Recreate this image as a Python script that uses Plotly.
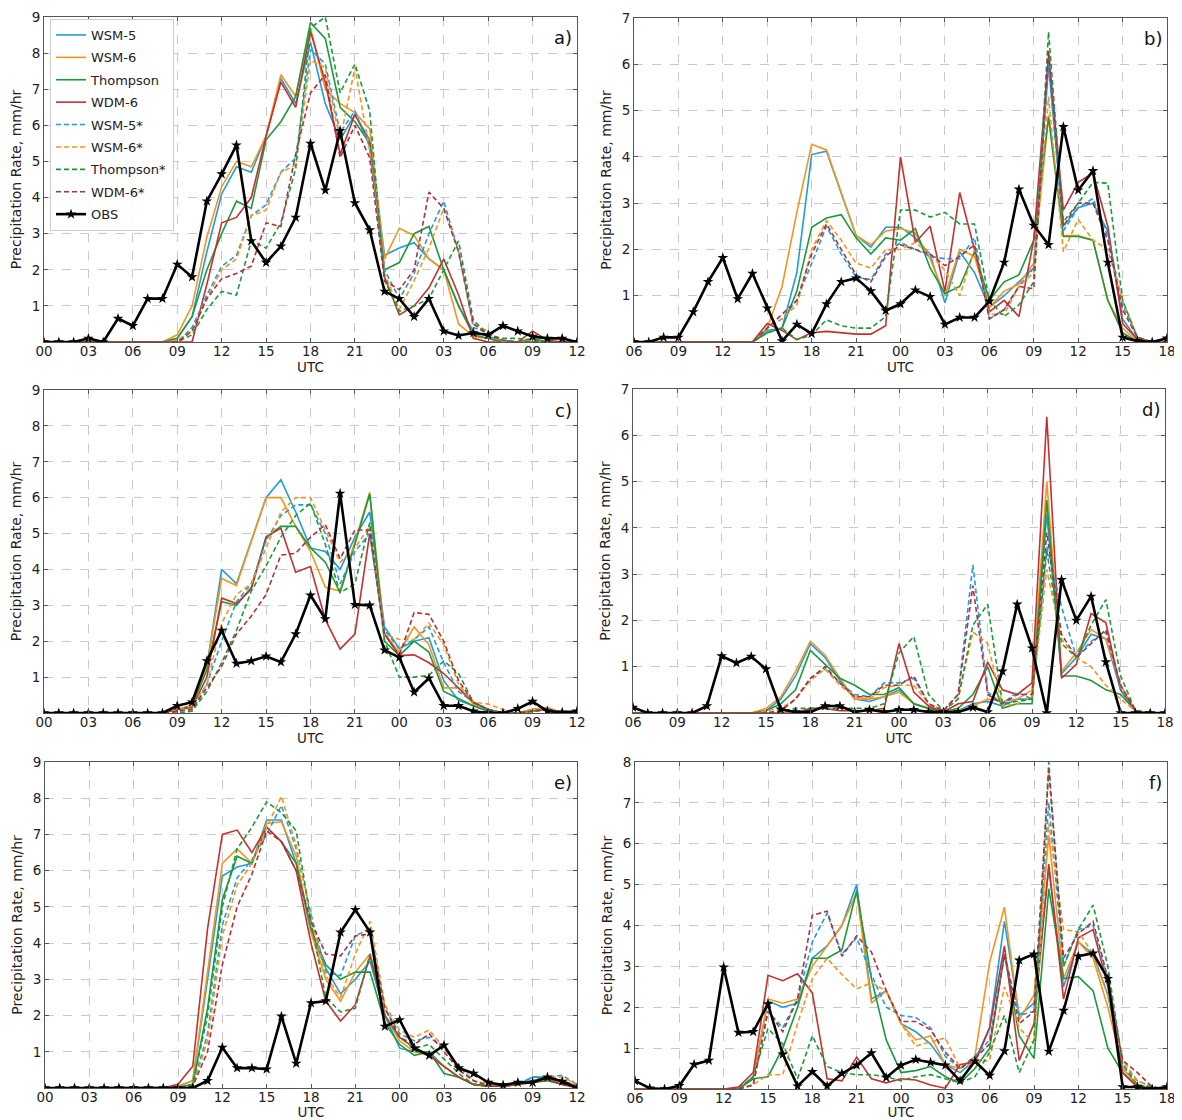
import plotly.graph_objects as go
from plotly.subplots import make_subplots

hours = list(range(37))
tick_pos = list(range(0, 37, 3))
labels_00 = ["00", "03", "06", "09", "12", "15", "18", "21", "00", "03", "06", "09", "12"]
labels_06 = ["06", "09", "12", "15", "18", "21", "00", "03", "06", "09", "12", "15", "18"]

series_names = ["WSM-5", "WSM-6", "Thompson", "WDM-6", "WSM-5*", "WSM-6*", "Thompson*", "WDM-6*", "OBS"]

# ---------------- panel a ----------------
wsm5_a = [0,0,0,0,0,0,0,0,0,0.1, 0.7,2.5,4.1,4.85,4.7,5.7,7.3,6.6,8.3,6.6, 5.6,6.3,5.6,2.4,2.6,2.75,2.3,2.0,1.0,0.3, 0.15,0.05,0,0,0,0,0]
wsm6_a = [0,0,0,0,0,0,0,0,0,0.2, 1.0,2.9,4.3,5.0,4.85,5.7,7.4,6.8,8.7,7.0, 6.6,6.35,5.9,2.3,3.15,2.95,2.3,2.0,0.5,0.15, 0.1,0,0,0,0,0,0]
thom_a = [0,0,0,0,0,0,0,0,0,0.1, 0.7,2.0,3.0,3.9,3.7,5.6,6.1,6.8,8.85,8.4, 6.5,6.1,5.5,2.0,2.2,3.0,3.2,2.0,1.0,0.2, 0.1,0,0,0.1,0,0,0]
wdm_a = [0,0,0,0,0,0,0,0,0,0, 0,1.6,3.3,3.45,4.0,5.7,7.2,6.5,8.6,7.2, 5.2,6.3,5.5,1.8,0.75,1.0,1.5,2.3,1.3,0.1, 0,0,0,0.3,0.05,0,0]
wsm5s_a = [0,0,0,0,0,0,0,0,0,0, 0.4,1.3,2.1,2.4,3.5,3.8,4.7,5.1,8.1,7.7, 5.8,6.4,5.4,2.0,1.2,1.9,3.0,3.9,2.5,0.4, 0.25,0,0,0,0,0,0]
wsm6s_a = [0,0,0,0,0,0,0,0,0,0.05, 0.3,1.2,2.0,2.3,3.5,3.65,4.7,4.9,7.8,7.6, 5.6,7.6,5.3,1.9,0.9,1.7,2.6,3.7,2.5,0.5, 0.3,0,0,0,0,0,0]
thoms_a = [0,0,0,0,0,0,0,0,0,0, 0.2,0.9,1.4,1.3,2.8,2.6,3.3,4.8,8.7,9.0, 6.9,7.7,6.4,1.7,0.85,1.0,1.2,2.0,2.8,0.6, 0.2,0.1,0.1,0.05,0,0,0]
wdms_a = [0,0,0,0,0,0,0,0,0,0, 0.3,1.2,1.75,1.9,2.1,3.3,3.2,5.2,6.9,7.4, 5.1,6.0,5.1,1.7,1.45,2.0,4.15,3.7,2.5,0.5, 0.2,0.05,0,0,0,0,0]
obs_a = [0,0,0,0.1,0,0.65,0.45,1.2,1.2,2.15, 1.8,3.9,4.65,5.45,2.8,2.2,2.65,3.45,5.5,4.2, 5.85,3.85,3.1,1.4,1.2,0.7,1.2,0.3,0.18,0.25, 0.2,0.45,0.3,0.15,0.1,0.1,0]

# ---------------- panel b ----------------
wsm5_b = [0,0,0,0,0,0,0,0,0,0.25, 0.3,1.5,4.05,4.12,3.2,2.3,2.05,2.48,2.48,2.25, 1.9,0.85,1.95,1.5,0.75,1.0,1.3,1.6,6.0,2.5, 2.9,3.0,2.4,0.5,0.05,0,0]
wsm6_b = [0,0,0,0,0,0,0,0,0,0.3, 1.2,2.8,4.27,4.15,3.2,2.3,2.1,2.4,2.45,2.35, 1.8,1.0,2.0,1.85,0.75,1.1,1.25,1.7,4.9,2.3, 2.3,2.2,0.9,0.3,0,0,0]
thom_b = [0,0,0,0,0,0,0,0,0,0.2, 0.3,1.1,2.48,2.68,2.75,2.25,1.9,2.25,2.2,2.45, 1.6,1.05,1.2,1.95,0.9,1.3,1.45,2.2,4.85,2.28, 2.28,2.2,0.9,0.2,0,0,0]
wdm_b = [0,0,0,0,0,0,0,0,0,0.4, 0.25,0.05,0.2,0.23,0.2,0.17,0.17,0.35,4.0,2.15, 2.5,1.1,3.23,2.0,0.65,0.9,0.55,2.2,6.2,2.85, 3.45,3.65,2.5,0.4,0.05,0,0]
wsm5s_b = [0,0,0,0,0,0,0,0,0,0.3, 0.5,0.9,1.7,2.5,1.9,1.4,1.35,1.9,2.15,2.0, 1.85,1.8,1.8,2.25,0.5,0.7,1.2,1.6,6.0,2.4, 2.9,3.1,2.3,0.8,0.1,0,0]
wsm6s_b = [0,0,0,0,0,0,0,0,0,0.3, 0.5,0.8,2.0,2.62,2.2,1.7,1.6,2.0,2.0,2.15, 1.9,1.55,1.0,2.0,0.6,0.6,1.2,1.5,5.3,1.95, 2.65,2.2,2.0,0.9,0.1,0,0]
thoms_b = [0,0,0,0,0,0,0,0,0,0.2, 0.3,0.05,0.15,0.48,0.35,0.3,0.3,0.55,2.85,2.85, 2.7,2.8,2.55,2.55,0.9,0.55,0.8,1.3,6.7,2.6, 3.0,3.45,3.43,0.9,0.1,0,0]
wdms_b = [0,0,0,0,0,0,0,0,0,0.3, 0.6,0.9,1.9,2.55,2.0,1.45,1.3,1.85,2.1,2.0, 1.9,1.65,1.85,2.1,0.5,0.7,1.2,1.15,6.3,2.5, 3.0,3.0,2.2,0.7,0.1,0,0]
obs_b = [0,0,0.1,0.1,0.65,1.3,1.82,0.93,1.48,0.73, 0.02,0.38,0.18,0.82,1.3,1.38,1.1,0.68,0.82,1.12, 0.98,0.38,0.53,0.53,0.88,1.72,3.3,2.52,2.1,4.65, 3.28,3.7,1.72,0.1,0.02,0,0.08]

# ---------------- panel c ----------------
wsm5_c = [0,0,0,0,0,0,0,0,0,0.1, 0.2,1.3,4.0,3.6,4.8,6.0,6.5,5.6,4.6,4.5, 4.0,4.9,5.6,2.4,1.8,2.0,2.1,0.9,0.35,0.2, 0.05,0,0,0.1,0.15,0,0]
wsm6_c = [0,0,0,0,0,0,0,0,0,0.1, 0.2,1.3,3.75,3.55,4.8,6.0,6.0,5.2,4.5,3.5, 3.4,4.8,6.15,2.2,1.7,2.4,1.9,0.7,0.7,0.25, 0.1,0,0,0.1,0.15,0,0]
thom_c = [0,0,0,0,0,0,0,0,0,0.1, 0.2,1.2,3.1,3.0,3.5,4.9,5.2,5.2,4.6,4.2, 3.35,4.7,6.1,2.0,1.6,2.0,1.7,0.6,0.4,0.2, 0.05,0,0,0.05,0.1,0,0]
wdm_c = [0,0,0,0,0,0,0,0,0,0.1, 0.15,1.0,3.2,3.05,3.45,4.9,5.15,3.92,4.08,2.6, 1.78,2.2,5.0,2.2,1.6,1.62,1.4,1.1,0.7,0.3, 0.1,0,0,0.05,0.1,0,0]
wsm5s_c = [0,0,0,0,0,0,0,0,0,0.05, 0.1,0.8,2.0,3.1,3.6,4.8,5.5,5.8,5.8,5.0, 3.6,4.5,5.0,2.3,1.8,2.05,2.4,1.4,0.6,0.3, 0.1,0,0,0.05,0.1,0,0]
wsm6s_c = [0,0,0,0,0,0,0,0,0,0.1, 0.2,0.8,2.5,3.3,3.6,4.6,5.6,6.0,6.0,5.1, 4.2,4.6,5.2,2.2,2.05,2.05,2.5,1.9,0.8,0.3, 0.25,0.1,0,0.05,0.15,0,0]
thoms_c = [0,0,0,0,0,0,0,0,0,0, 0.05,0.6,1.4,2.3,3.4,4.1,4.9,5.5,5.85,4.7, 3.35,3.6,5.3,2.0,1.0,1.0,1.05,1.45,1.1,0.3, 0.1,0,0,0.05,0.1,0,0]
wdms_c = [0,0,0,0,0,0,0,0,0,0.05, 0.1,0.7,1.3,2.2,2.7,3.3,4.4,4.45,4.9,5.25, 4.3,5.1,5.1,2.2,1.6,2.8,2.75,2.0,0.9,0.3, 0.1,0,0,0.05,0.1,0,0]
obs_c = [0,0,0,0,0,0,0,0,0,0.2, 0.3,1.45,2.3,1.38,1.45,1.58,1.42,2.2,3.28,2.62, 6.12,3.02,3.0,1.75,1.55,0.58,0.97,0.2,0.2,0.05, 0,0,0.12,0.32,0.05,0.02,0.05]

# ---------------- panel d ----------------
wsm5_d = [0,0,0,0,0,0,0,0,0,0.05, 0.3,0.8,1.5,1.2,0.7,0.3,0.25,0.35,0.5,0.2, 0.1,0.02,0.05,0.2,0.25,0.15,0.3,0.3,4.3,0.85, 1.2,1.7,1.6,0.5,0.05,0,0]
wsm6_d = [0,0,0,0,0,0,0,0,0,0.1, 0.35,0.9,1.55,1.25,0.75,0.3,0.3,0.35,0.45,0.2, 0.1,0.02,0.05,0.15,0.3,0.25,0.3,0.5,5.0,0.9, 1.3,1.8,1.6,0.6,0.05,0,0]
thom_d = [0,0,0,0,0,0,0,0,0,0.05, 0.2,0.5,1.35,1.05,0.75,0.6,0.4,0.4,0.55,0.2, 0.1,0.02,0.1,0.4,1.0,0.1,0.2,0.2,4.6,0.8, 0.8,0.7,0.5,0.4,0.05,0,0]
wdm_d = [0,0,0,0,0,0,0,0,0,0, 0,0,0.1,0.1,0.05,0.05,0.05,0.1,1.5,0.45, 0.15,0.02,0.2,0.25,1.1,0.5,0.4,0.65,6.4,0.75, 1.05,2.15,1.95,0.5,0.05,0,0]
wsm5s_d = [0,0,0,0,0,0,0,0,0,0, 0.05,0.3,0.75,0.95,0.65,0.4,0.35,0.65,0.65,0.75, 0.2,0.05,0.4,3.2,0.45,0.2,0.45,0.3,3.6,2.3, 1.2,1.55,1.75,0.5,0.05,0,0]
wsm6s_d = [0,0,0,0,0,0,0,0,0,0.05, 0.1,0.3,0.7,0.95,0.6,0.35,0.3,0.55,0.6,0.6, 0.2,0.05,0.3,1.75,1.5,0.15,0.2,0.35,3.1,1.6, 1.2,1.0,0.6,0.3,0.05,0,0]
thoms_d = [0,0,0,0,0,0,0,0,0,0, 0.02,0.1,0.1,0.1,0.1,0.1,0.1,0.2,1.3,1.65, 0.4,0.05,0.3,1.9,2.35,0.2,0.25,0.3,3.5,1.5, 1.2,1.9,2.45,0.8,0.05,0,0]
wdms_d = [0,0,0,0,0,0,0,0,0,0, 0.05,0.3,0.75,1.0,0.65,0.35,0.35,0.6,0.6,0.8, 0.2,0.05,0.4,2.75,0.4,0.2,0.4,0.4,3.9,1.7, 1.2,1.5,1.8,0.6,0.05,0,0]
obs_d = [0.12,0,0,0,0,0.15,1.23,1.08,1.22,0.95, 0.08,0.02,0.02,0.15,0.15,0.02,0.07,0.02,0.07,0.07, 0.02,0.02,0.02,0.12,0.02,0.9,2.35,1.4,0,2.88, 2.0,2.52,1.1,0,0,0,0]

# ---------------- panel e ----------------
wsm5_e = [0,0,0,0,0,0,0,0,0,0.05, 0.2,3.0,5.85,6.1,6.2,7.4,7.4,6.2,4.3,3.3, 2.6,3.0,3.5,2.0,1.1,1.0,1.0,0.6,0.3,0.1, 0.05,0.05,0.1,0.3,0.3,0.2,0.05]
wsm6_e = [0,0,0,0,0,0,0,0,0,0.05, 0.2,3.2,6.2,6.6,6.2,7.3,7.35,6.4,4.3,3.0, 2.4,3.2,3.7,2.0,1.3,1.0,0.9,0.6,0.3,0.1, 0.05,0.05,0.1,0.2,0.3,0.2,0.05]
thom_e = [0,0,0,0,0,0,0,0,0,0.02, 0.1,2.2,5.2,6.4,6.2,7.2,6.8,6.2,4.4,3.4, 3.0,3.2,3.2,1.8,1.2,0.9,1.0,0.4,0.3,0.1, 0.05,0.05,0.1,0.15,0.2,0.1,0.05]
wdm_e = [0,0,0,0,0,0,0,0,0,0.1, 0.6,4.4,7.0,7.12,6.5,7.2,6.8,6.0,4.0,2.4, 1.85,2.3,3.65,2.0,1.4,1.1,0.9,0.6,0.3,0.1, 0.05,0.05,0.1,0.15,0.25,0.1,0]
wsm5s_e = [0,0,0,0,0,0,0,0,0,0, 0.05,1.5,4.5,5.8,6.3,7.0,7.8,6.6,4.8,3.2, 3.1,4.2,4.4,2.2,1.5,1.3,1.4,1.1,0.6,0.2, 0.1,0.05,0.1,0.3,0.3,0.35,0.1]
wsm6s_e = [0,0,0,0,0,0,0,0,0,0, 0.05,1.3,4.2,5.6,6.2,7.2,8.05,6.7,4.7,3.1, 2.5,3.7,4.6,2.3,1.6,1.4,1.6,1.1,0.6,0.2, 0.1,0.05,0.1,0.2,0.3,0.3,0.1]
thoms_e = [0,0,0,0,0,0,0,0,0,0, 0.1,2.0,5.0,6.6,7.2,7.9,7.6,7.1,4.6,2.5, 2.1,2.2,3.7,2.0,1.4,1.1,1.2,0.8,0.4,0.1, 0.05,0.05,0.1,0.2,0.3,0.2,0.05]
wdms_e = [0,0,0,0,0,0,0,0,0,0, 0.05,1.0,3.4,5.0,5.9,7.1,6.8,6.0,4.6,3.7, 3.65,4.2,4.25,2.2,1.4,1.2,1.5,1.0,0.5,0.2, 0.05,0.05,0.1,0.2,0.3,0.2,0.05]
obs_e = [0,0,0,0,0,0,0,0,0,0, 0,0.2,1.12,0.55,0.55,0.52,1.98,0.68,2.35,2.4, 4.3,4.92,4.3,1.7,1.88,1.1,0.9,1.18,0.55,0.4, 0.15,0.08,0.15,0.15,0.3,0.18,0]

# ---------------- panel f ----------------
wsm5_f = [0,0,0,0,0,0,0,0,0.3,2.15, 2.0,2.1,3.2,3.5,4.0,5.0,2.2,2.4,1.6,1.4, 1.1,0.6,0.4,0.7,1.5,4.1,1.8,2.1,5.4,2.5, 3.6,3.3,2.3,0.5,0.1,0.02,0]
wsm6_f = [0,0,0,0,0,0,0,0,0.25,2.2, 2.1,2.2,3.0,3.5,4.0,4.8,2.1,2.4,1.6,1.2, 1.3,0.6,0.5,0.8,3.1,4.45,1.7,2.3,6.2,2.7, 3.6,3.2,2.0,0.5,0.1,0.02,0]
thom_f = [0,0,0,0,0,0,0,0,0.25,0.3, 1.0,2.0,3.2,3.2,3.4,4.85,2.7,1.2,0.4,0.45, 0.55,0.3,0.15,0.5,1.0,3.3,1.3,0.75,4.9,2.7, 2.75,2.4,1.0,0.4,0.05,0,0]
wdm_f = [0,0,0,0,0,0,0,0.05,0.4,2.78, 2.65,2.82,2.35,0.25,0.2,0.78,0.25,0.15,0.25,0.22, 0.1,0.02,0.6,0.65,1.5,3.5,0.7,1.6,5.5,2.2, 3.7,3.9,2.5,0.4,0.05,0,0]
wsm5s_f = [0,0,0,0,0,0,0,0,0.1,1.9, 1.5,2.2,3.6,4.3,3.3,3.7,2.8,2.0,1.8,1.75, 1.5,0.8,0.5,0.8,1.2,3.3,1.8,1.9,7.0,3.0, 3.9,4.0,2.6,0.6,0.2,0.05,0]
wsm6s_f = [0,0,0,0,0,0,0,0,0.1,0.35, 0.35,1.6,2.7,3.2,2.8,2.45,2.6,2.4,1.6,1.05, 1.15,1.25,0.5,0.65,0.7,2.5,1.5,1.1,6.5,3.9, 3.85,3.3,2.3,0.7,0.2,0.05,0]
thoms_f = [0,0,0,0,0,0,0,0,0.3,1.48, 1.1,0.25,1.3,0.55,0.4,0.35,0.35,0.3,0.2,0.3, 0.35,0.25,0.15,0.3,0.9,1.8,0.4,1.2,8.0,3.0, 3.9,4.5,3.0,0.6,0.1,0.05,0]
wdms_f = [0,0,0,0,0,0,0,0,0.1,1.9, 1.4,2.2,4.25,4.35,3.25,3.75,3.35,2.4,1.65,1.65, 1.45,0.9,0.5,0.75,1.1,3.3,1.6,1.9,7.8,3.2, 3.8,4.1,2.7,0.7,0.4,0.05,0]
obs_f = [0.2,0.02,0,0.08,0.6,0.7,2.98,1.38,1.4,2.08, 0.85,0.07,0.42,0.07,0.38,0.58,0.88,0.28,0.58,0.72, 0.65,0.58,0.2,0.68,0.33,0.93,3.15,3.3,0.92,1.92, 3.25,3.32,2.7,0.05,0.05,0,0.05]

panels = [
    ("a)", [wsm5_a, wsm6_a, thom_a, wdm_a, wsm5s_a, wsm6s_a, thoms_a, wdms_a, obs_a], 9, labels_00),
    ("b)", [wsm5_b, wsm6_b, thom_b, wdm_b, wsm5s_b, wsm6s_b, thoms_b, wdms_b, obs_b], 7, labels_06),
    ("c)", [wsm5_c, wsm6_c, thom_c, wdm_c, wsm5s_c, wsm6s_c, thoms_c, wdms_c, obs_c], 9, labels_00),
    ("d)", [wsm5_d, wsm6_d, thom_d, wdm_d, wsm5s_d, wsm6s_d, thoms_d, wdms_d, obs_d], 7, labels_06),
    ("e)", [wsm5_e, wsm6_e, thom_e, wdm_e, wsm5s_e, wsm6s_e, thoms_e, wdms_e, obs_e], 9, labels_00),
    ("f)", [wsm5_f, wsm6_f, thom_f, wdm_f, wsm5s_f, wsm6s_f, thoms_f, wdms_f, obs_f], 8, labels_06),
]

for p in panels:
    for s in p[1]:
        assert len(s) == 37, (p[0], len(s))

colors = ["#1f9ddb", "#f7941d", "#1c9a3a", "#c62f2f", "#1f9ddb", "#f7941d", "#1c9a3a", "#b03040"]
dashes = ["solid"] * 4 + ["5px,3px"] * 4

# the page body has an 8px margin: figure is sized so it ends at the window edge
OFF = 8
W, H = 1182 - OFF, 1120 - OFF
# pixel boxes in window coordinates (left, right, top, bottom)
boxes = [(44, 577, 17, 342), (634, 1167, 18, 342),
         (44, 577, 390, 713), (633, 1165, 389, 713),
         (45, 577, 762, 1088), (635, 1167, 762, 1089)]

fig = make_subplots(rows=3, cols=2)
font_family = "DejaVu Sans, Arial, sans-serif"

for k, (lab, data, ymax, xlabels) in enumerate(panels):
    r, c = k // 2 + 1, k % 2 + 1
    for j in range(8):
        fig.add_trace(go.Scatter(
            x=hours, y=data[j], mode="lines", name=series_names[j],
            legendgroup=series_names[j],
            line=dict(color=colors[j], width=1.6, dash=dashes[j]),
            showlegend=(k == 0), legendrank=j + 1,
        ), row=r, col=c)
    fig.add_trace(go.Scatter(
        x=hours, y=data[8], mode="lines+markers", name="OBS", legendgroup="OBS",
        line=dict(color="black", width=2.6),
        marker=dict(symbol="star", size=8, color="black"),
        showlegend=(k == 0), legendrank=9,
    ), row=r, col=c)

    L, R, T, B = boxes[k]
    xa = "xaxis" if k == 0 else f"xaxis{k+1}"
    ya = "yaxis" if k == 0 else f"yaxis{k+1}"
    fig.layout[xa].update(
        domain=[(L - OFF) / W, (R - OFF) / W], range=[0, 36], tickvals=tick_pos, ticktext=xlabels,
        showline=True, linecolor="#555", linewidth=1, mirror="allticks",
        ticks="inside", ticklen=4, tickcolor="#555",
        showgrid=True, gridcolor="#c9c9c9", griddash="dash", gridwidth=1,
        zeroline=False, tickfont=dict(size=13.5, color="#222"), ticklabelstandoff=-3,
        title=dict(text="UTC", font=dict(size=13.5, color="#222"), standoff=0),
        automargin=False,
    )
    fig.layout[ya].update(
        domain=[1 - (B - OFF) / H, 1 - (T - OFF) / H], range=[0, ymax],
        tickvals=list(range(1, ymax + 1)),
        showline=True, linecolor="#555", linewidth=1, mirror="allticks",
        ticks="inside", ticklen=4, tickcolor="#555",
        showgrid=True, gridcolor="#c9c9c9", griddash="dash", gridwidth=1,
        zeroline=False, tickfont=dict(size=13.5, color="#222"),
        title=dict(text="Precipitation Rate, mm/hr", font=dict(size=14, color="#222"), standoff=6),
        automargin=False,
    )
    xref = "x domain" if k == 0 else f"x{k+1} domain"
    yref = "y domain" if k == 0 else f"y{k+1} domain"
    fig.add_annotation(text=lab, xref=xref, yref=yref, x=0.995, y=0.975,
                       xanchor="right", yanchor="top", showarrow=False,
                       font=dict(size=18, color="#111"))

fig.update_layout(
    width=W, height=H,
    margin=dict(l=0, r=0, t=0, b=0),
    paper_bgcolor="white", plot_bgcolor="white",
    font=dict(family=font_family, size=13, color="#222"),
    legend=dict(x=(50 - OFF) / W, y=1 - (19 - OFF) / H, xanchor="left", yanchor="top",
                bgcolor="rgba(255,255,255,0.9)", bordercolor="#cccccc", borderwidth=1,
                font=dict(size=13), traceorder="grouped", tracegroupgap=2.5, itemwidth=30),
)

fig.write_html("out.html")
